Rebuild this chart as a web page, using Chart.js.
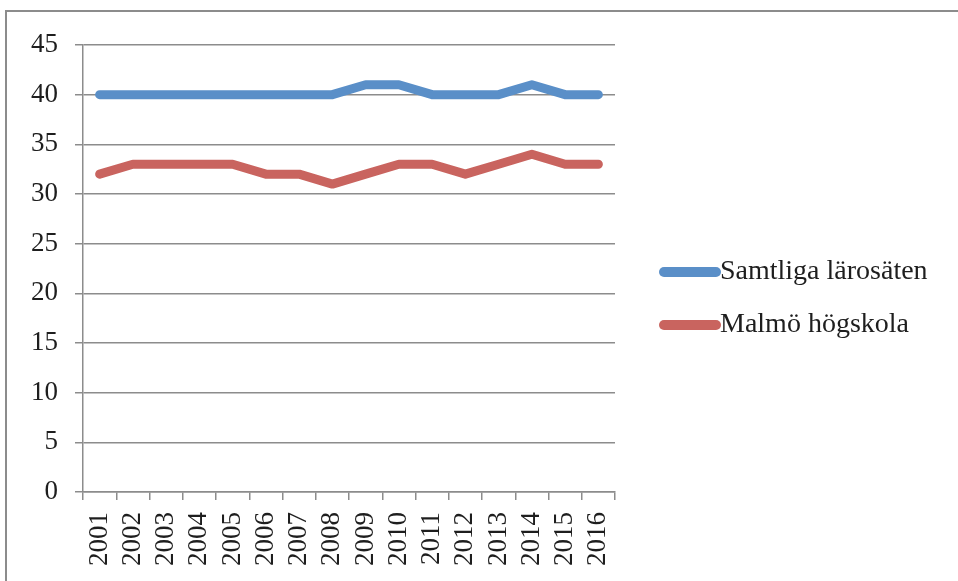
<!DOCTYPE html>
<html>
<head>
<meta charset="utf-8">
<script src="https://cdn.jsdelivr.net/npm/chart.js@4"></script>
<style>
  body { margin: 0; background: #fff; }
  #wrap { position: relative; width: 958px; height: 581px; overflow: hidden; }
  #ram { position: absolute; left: 5px; top: 10px; width: 1200px; height: 900px;
         border-left: 2px solid #8c8c8c; border-top: 2px solid #8c8c8c; }
  canvas { position: absolute; left: 0; top: 0; }
</style>
</head>
<body>
<div id="wrap">
  <div id="ram"></div>
  <canvas id="diagram" width="958" height="581"></canvas>
</div>
<script>
// Data
const ar = ['2001', '2002', '2003', '2004', '2005', '2006', '2007', '2008',
            '2009', '2010', '2011', '2012', '2013', '2014', '2015', '2016'];
const samtliga = [40, 40, 40, 40, 40, 40, 40, 40, 41, 41, 40, 40, 40, 41, 40, 40];
const malmo = [32, 33, 33, 33, 33, 32, 32, 31, 32, 33, 33, 32, 33, 34, 33, 33];
const serieNamn = ['Samtliga lärosäten', 'Malmö högskola'];
const yTicks = [0, 5, 10, 15, 20, 25, 30, 35, 40, 45];

const typsnitt = '"Liberation Serif", "DejaVu Serif", serif';
const gra = '#8c8c8c';

// egen legend till höger
const legendPlugin = {
    id: 'hogerLegend',
    afterDraw(chart) {
        const ctx = chart.ctx;
        chart.data.datasets.forEach(function (ds, i) {
            const y = 272 + i * 53;
            ctx.save();
            ctx.strokeStyle = ds.borderColor;
            ctx.lineWidth = 10;
            ctx.lineCap = 'round';
            ctx.beginPath();
            ctx.moveTo(664, y);
            ctx.lineTo(716, y);
            ctx.stroke();
            ctx.fillStyle = '#1e1e1e';
            ctx.font = '28px ' + typsnitt;
            ctx.textBaseline = 'middle';
            ctx.fillText(ds.label, 720, y);
            ctx.restore();
        });
    }
};

const ctx = document.getElementById('diagram').getContext('2d');
new Chart(ctx, {
    type: 'line',
    data: {
        labels: ar,
        datasets: [
            {
                label: serieNamn[0],
                data: samtliga,
                borderColor: '#5a8fc8',
                backgroundColor: '#5a8fc8',
                borderWidth: 9,
                pointRadius: 0,
                borderCapStyle: 'round',
                borderJoinStyle: 'round',
                tension: 0
            },
            {
                label: serieNamn[1],
                data: malmo,
                borderColor: '#c9645f',
                backgroundColor: '#c9645f',
                borderWidth: 9,
                pointRadius: 0,
                borderCapStyle: 'round',
                borderJoinStyle: 'round',
                tension: 0
            }
        ]
    },
    options: {
        responsive: false,
        animation: false,
        layout: { padding: { left: 0, top: 45, right: 343, bottom: 0 } },
        plugins: {
            legend: { display: false },
            tooltip: { enabled: false }
        },
        scales: {
            x: {
                offset: true,
                grid: {
                    offset: true,
                    drawOnChartArea: false,
                    drawTicks: true,
                    tickLength: 8,
                    color: gra,
                    lineWidth: 1.5
                },
                border: { color: gra, width: 1.5 },
                ticks: {
                    autoSkip: false,
                    minRotation: 90,
                    maxRotation: 90,
                    padding: 12,
                    color: '#1e1e1e',
                    font: { family: typsnitt, size: 27 }
                },
                afterFit: function (scale) { scale.height = 89; }
            },
            y: {
                min: 0,
                max: 45,
                afterBuildTicks: function (scale) {
                    scale.ticks = yTicks.map(function (v) { return { value: v }; });
                },
                grid: {
                    color: gra,
                    lineWidth: 1.5,
                    tickLength: 8
                },
                border: { color: gra, width: 1.5 },
                ticks: {
                    padding: 17,
                    color: '#1e1e1e',
                    font: { family: typsnitt, size: 27 }
                },
                afterFit: function (scale) { scale.width = 83; }
            }
        }
    },
    plugins: [legendPlugin]
});
</script>
</body>
</html>
